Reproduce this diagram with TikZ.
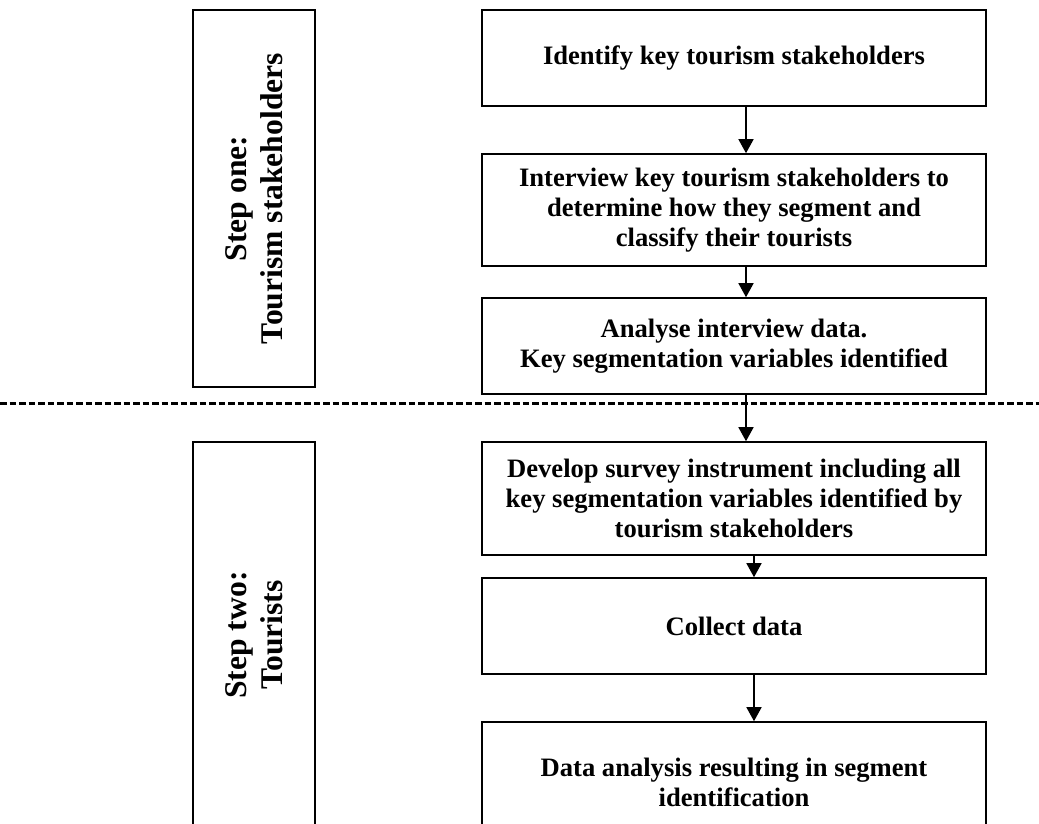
\documentclass[tikz,border=0pt]{standalone}
\usepackage{fontspec}
\setmainfont{Liberation Serif}
\usetikzlibrary{arrows.meta}
\tikzset{
  stepbox/.style={draw, line width=1.6pt, minimum width=504pt, align=center, inner sep=2pt,
    font=\fontsize{26.6}{30}\selectfont\bfseries},
  phasebox/.style={draw, line width=1.6pt, rotate=90, minimum height=122pt, align=center, inner sep=2pt,
    font=\fontsize{31.6}{36}\selectfont\bfseries},
  arr/.style={line width=1.5pt, -{Triangle[length=14pt,width=15pt]}},
  sep/.style={line width=3pt, dash pattern=on 6.5pt off 3pt}
}
\begin{document}
\begin{tikzpicture}[x=1pt,y=-1pt]
\useasboundingbox (0,0) rectangle (1039,823);
\clip (0,0) rectangle (1039,823);
% left phase boxes
\node[phasebox, minimum width=377pt] (p1) at (254,198.5) {Step one:\\Tourism stakeholders};
\node[phasebox, minimum width=386pt] (p2) at (254,635) {Step two:\\Tourists};
% right step boxes
\node[stepbox, minimum height=96pt] (b1) at (734,58) {Identify key tourism stakeholders};
\node[stepbox, minimum height=112pt] (b2) at (734,210) {Interview key tourism stakeholders to\\determine how they segment and\\classify their tourists};
\node[stepbox, minimum height=96pt] (b3) at (734,346) {Analyse interview data.\\Key segmentation variables identified};
\node[stepbox, minimum height=113pt] (b4) at (734,498.5) {Develop survey instrument including all\\key segmentation variables identified by\\tourism stakeholders};
\node[stepbox, minimum height=96pt] (b5) at (734,626) {Collect data};
\node[stepbox, minimum height=120pt] (b6) at (734,782) {Data analysis resulting in segment\\identification};
% separator
\coordinate (sl) at (0,403);
\coordinate (sr) at (1039,403);
\draw[sep] (sl) -- (sr);
% arrows
\draw[arr] ([xshift=12pt]b1.south) -- ([xshift=12pt]b2.north);
\draw[arr] ([xshift=12pt]b2.south) -- ([xshift=12pt]b3.north);
\draw[arr] ([xshift=12pt]b3.south) -- ([xshift=12pt]b4.north);
\draw[arr] ([xshift=20pt]b4.south) -- ([xshift=20pt]b5.north);
\draw[arr] ([xshift=20pt]b5.south) -- ([xshift=20pt]b6.north);
\end{tikzpicture}
\end{document}
